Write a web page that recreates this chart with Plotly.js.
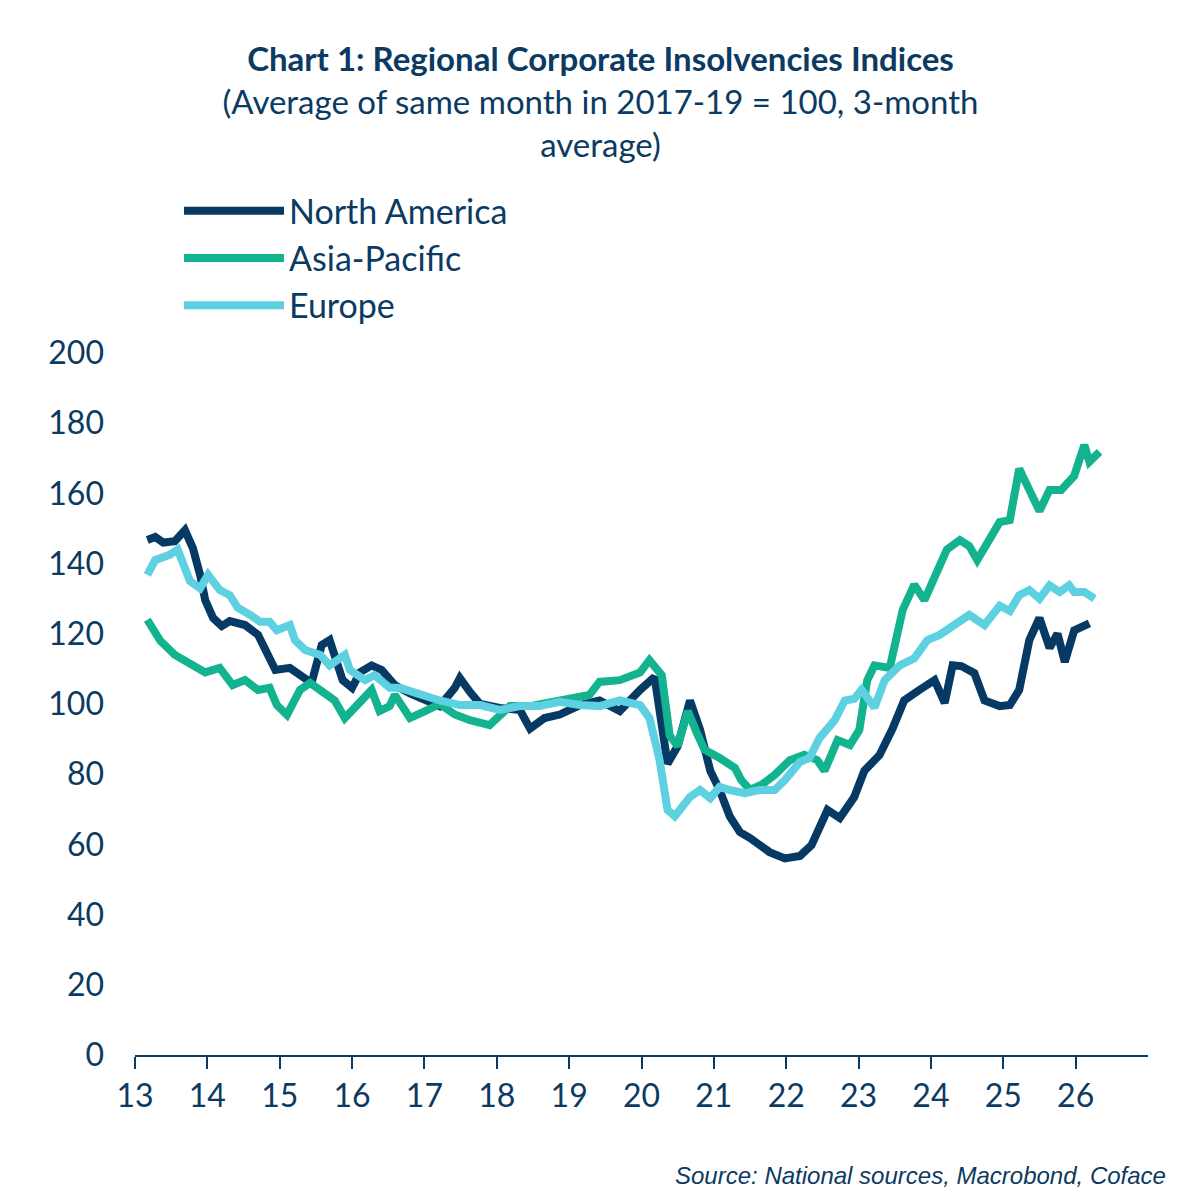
<!DOCTYPE html>
<html>
<head>
<meta charset="utf-8">
<script src="https://cdn.plot.ly/plotly-3.0.1.min.js"></script>
<style>body{margin:0;background:#fff}</style>
</head>
<body>
<div id="chart" style="width:1201px;height:1189px"></div>
<script>
// years (decimal, 13 = 2013) and index values
var naX = [13.17,13.28,13.39,13.55,13.69,13.80,13.90,13.97,14.08,14.20,14.31,14.52,14.70,14.80,14.94,15.14,15.35,15.44,15.58,15.69,15.87,16.00,16.11,16.27,16.41,16.59,16.80,17.01,17.21,17.42,17.49,17.63,17.77,18.04,18.32,18.46,18.66,18.87,19.15,19.42,19.70,19.98,20.18,20.36,20.50,20.67,20.81,20.95,21.08,21.22,21.36,21.50,21.63,21.77,21.98,22.19,22.35,22.57,22.74,22.94,23.08,23.29,23.47,23.63,23.84,24.05,24.19,24.30,24.42,24.60,24.74,24.95,25.09,25.22,25.36,25.50,25.64,25.75,25.85,25.98,26.19];
var naY = [146.7,147.6,146,146.4,149.5,144.4,136.8,129.6,124.5,122.2,123.6,122.5,119.7,115.4,109.7,110.3,107.4,106,116.8,118.2,106.8,104.6,109,111,109.7,105.4,103,101,99.4,104.6,107.4,103.4,100,98.9,98.3,93,96,97,99.7,101,98,104,107.7,83,88,101,92.6,81,75.5,68,63.5,61.8,59.8,57.8,56,56.7,59.8,69.8,67.5,73.5,81,85.5,93,101,104,106.8,100.3,111,110.8,108.8,101,99.4,99.7,104,118.2,124.5,116,120,112,121,123];

var apX = [13.17,13.35,13.55,13.76,13.97,14.17,14.35,14.52,14.70,14.86,14.96,15.10,15.28,15.42,15.56,15.76,15.90,16.11,16.27,16.38,16.52,16.59,16.80,17.01,17.21,17.42,17.63,17.90,18.18,18.46,18.87,19.28,19.42,19.70,19.98,20.11,20.28,20.39,20.50,20.64,20.76,20.87,21.08,21.29,21.38,21.50,21.66,21.84,22.05,22.25,22.43,22.53,22.71,22.88,23.01,23.12,23.22,23.43,23.61,23.77,23.91,24.08,24.22,24.40,24.53,24.64,24.81,24.95,25.09,25.22,25.36,25.50,25.64,25.80,25.98,26.12,26.19,26.33];
var apY = [124,118,114,111.4,109,110.3,105.4,106.8,104,104.6,99.7,96.9,104,106,104,101,96,101,104,98,99.4,102.6,96,98,100,97,95.4,94,99.4,99.4,101,102.6,106.3,106.8,109,112.5,108.2,91,88,98,92,87,84.6,81.8,78.3,75.5,77,79.8,84,85.5,84,81,89.7,88.3,92.6,106.8,111,110.3,126.8,134,129.6,138,144,146.7,145,141,146.7,151.8,152.4,167,161,155,161,161,165,173.8,169,171.8];

var euX = [13.17,13.28,13.48,13.59,13.76,13.90,14.01,14.17,14.31,14.42,14.59,14.73,14.86,14.96,15.14,15.21,15.35,15.56,15.69,15.90,15.97,16.18,16.31,16.52,16.66,16.94,17.21,17.49,17.77,18.04,18.32,18.59,18.87,19.15,19.42,19.70,19.98,20.11,20.25,20.36,20.46,20.67,20.81,20.95,21.08,21.22,21.43,21.63,21.84,21.98,22.19,22.32,22.46,22.67,22.81,22.94,23.04,23.15,23.22,23.36,23.57,23.77,23.95,24.12,24.26,24.40,24.53,24.74,24.95,25.09,25.22,25.36,25.50,25.64,25.78,25.91,25.98,26.12,26.26];
var euY = [136.8,141,142.5,144,135,133,136.8,132.5,131,127.4,125.4,123.4,123.4,121,122.5,118.2,115.4,114,111,114,109.7,106.8,108.2,104.6,104.6,102.6,101,99.7,99.7,98.3,99.4,99.4,100.6,99.7,99.4,101,99.7,96,84,69.8,68,73.5,75.5,73.2,76.4,75.5,74.6,75.5,75.5,78.3,83.5,84.6,90.3,95.4,101,101.5,104,101,99,106.8,111,113,118.2,119.7,121.6,124,125.4,122.5,128,126.5,131,132.5,130,133.8,131.9,133.8,131.9,131.9,130];

var yearTicks = [13,14,15,16,17,18,19,20,21,22,23,24,25,26];
var yTicks = [0,20,40,60,80,100,120,140,160,180,200];

var navy = "#0b3a62";
function line(name, x, y, color) {
  return { type: "scatter", mode: "lines", name: name, x: x, y: y,
           line: { color: color, width: 8 } };
}
var data = [
  line("North America", naX, naY, "#063a64"),
  line("Asia-Pacific", apX, apY, "#14b38f"),
  line("Europe", euX, euY, "#5dd0e2")
];

var layout = {
  width: 1201, height: 1189,
  margin: { l: 135, r: 53, t: 353, b: 134 },
  paper_bgcolor: "#fff", plot_bgcolor: "#fff",
  font: { family: "Lato, 'Open Sans', sans-serif", color: navy, size: 32 },
  title: {
    text: "<b>Chart 1: Regional Corporate Insolvencies Indices</b><br>(Average of same month in 2017-19 = 100, 3-month<br>average)",
    font: { size: 33, color: navy }, x: 0.5, xanchor: "center", y: 0.94, yanchor: "top"
  },
  showlegend: true,
  legend: { orientation: "h", x: 0.08, xanchor: "left", y: 1.135, yanchor: "middle",
            font: { size: 34, color: navy }, entrywidth: 390, entrywidthmode: "pixels",
            itemwidth: 100, traceorder: "normal" },
  xaxis: {
    range: [13, 27], tickvals: yearTicks, ticktext: yearTicks.map(String),
    showgrid: false, zeroline: false, showline: true, linecolor: navy, linewidth: 2,
    ticks: "outside", ticklen: 12, tickwidth: 2, tickcolor: navy,
    tickfont: { size: 32, color: navy }
  },
  yaxis: {
    range: [0, 200], tickvals: yTicks, showgrid: false, zeroline: false, showline: false,
    ticks: "", ticklabelstandoff: 30, tickfont: { size: 32, color: navy }
  },
  annotations: [{
    text: "<i>Source: National sources, Macrobond, Coface</i>", xref: "paper", yref: "paper",
    x: 1.02, y: -0.15, xanchor: "right", yanchor: "top", showarrow: false,
    font: { size: 24, color: navy, family: "'Liberation Sans', Arial, sans-serif" }
  }]
};
Plotly.newPlot("chart", data, layout, { displayModeBar: false });
</script>
</body>
</html>
